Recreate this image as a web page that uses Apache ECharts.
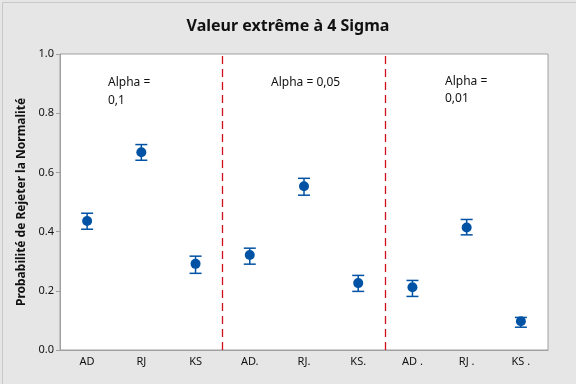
<!DOCTYPE html>
<html><head><meta charset="utf-8">
<script src="https://cdn.jsdelivr.net/npm/echarts@6/dist/echarts.min.js"></script>
<style>html,body{margin:0;padding:0;background:#e6e6e6}#c{width:576px;height:384px}</style>
</head><body><div id="c"></div>
<script>
const categories = ['AD','RJ','KS','AD.','RJ.','KS.','AD .','RJ .','KS .'];
const probValues = [0.436, 0.668, 0.291, 0.321, 0.553, 0.226, 0.212, 0.414, 0.097];
const upperValues = [0.462, 0.694, 0.317, 0.344, 0.580, 0.252, 0.235, 0.441, 0.110];
const lowerValues = [0.408, 0.641, 0.259, 0.290, 0.523, 0.198, 0.181, 0.389, 0.077];
const dividerPositions = [3, 6];
const yTicks = [0, 0.2, 0.4, 0.6, 0.8, 1.0];

const color = '#0053a4';
const font = '"Noto Sans", "DejaVu Sans", sans-serif';
const chart = echarts.init(document.getElementById('c'));
chart.setOption({
  backgroundColor: '#e6e6e6',
  animation: false,
  title: {
    text: 'Valeur extrême à 4 Sigma', left: 'center', top: 13,
    textStyle: {fontFamily: font, fontSize: 16, fontWeight: 'bold', color: '#111'}
  },
  grid: {left: 60, right: 28, top: 54, bottom: 34, show: true, backgroundColor: '#fff', borderColor: '#a0a0a0', borderWidth: 1},
  xAxis: [{
    type: 'category', data: categories, boundaryGap: true,
    axisLine: {lineStyle: {color: '#a0a0a0'}},
    axisTick: {alignWithLabel: true, length: 4, lineStyle: {color: '#a0a0a0'}},
    axisLabel: {fontFamily: font, fontSize: 11, color: '#111', margin: 6, interval: 0}
  }, {
    type: 'value', min: 0, max: 9, show: false
  }],
  yAxis: {
    type: 'value', min: 0, max: 1, interval: 0.2,
    name: 'Probabilité de Rejeter la Normalité', nameLocation: 'middle', nameGap: 31,
    nameTextStyle: {fontFamily: font, fontSize: 12, fontWeight: 'bold', color: '#111'},
    axisLine: {show: true, lineStyle: {color: '#a0a0a0'}},
    axisTick: {show: true, length: 4, lineStyle: {color: '#a0a0a0'}},
    splitLine: {show: false},
    axisLabel: {fontFamily: font, fontSize: 11, color: '#111', margin: 6,
      formatter: v => yTicks.some(t => Math.abs(t - v) < 1e-9) ? v.toFixed(1) : ''}
  },
  series: [{
    type: 'custom', xAxisIndex: 0,
    data: categories.map((c, i) => [i, lowerValues[i], upperValues[i]]),
    renderItem: function (params, api) {
      const lo = api.coord([api.value(0), api.value(1)]);
      const hi = api.coord([api.value(0), api.value(2)]);
      const w = 6;
      const st = {stroke: color, lineWidth: 1.5};
      return {type: 'group', children: [
        {type: 'line', shape: {x1: hi[0], y1: hi[1], x2: lo[0], y2: lo[1]}, style: st},
        {type: 'line', shape: {x1: hi[0] - w, y1: hi[1], x2: hi[0] + w, y2: hi[1]}, style: st},
        {type: 'line', shape: {x1: lo[0] - w, y1: lo[1], x2: lo[0] + w, y2: lo[1]}, style: st}
      ]};
    },
    z: 2
  }, {
    type: 'scatter', xAxisIndex: 0, data: probValues, symbol: 'circle', symbolSize: 10,
    itemStyle: {color: color, opacity: 1}, z: 3
  }, {
    type: 'scatter', xAxisIndex: 1, data: [], silent: true,
    markLine: {
      silent: true, symbol: 'none', label: {show: false},
      lineStyle: {color: '#d0101a', type: [8, 5], width: 1.3},
      data: dividerPositions.map(p => ({xAxis: p}))
    }
  }],
  graphic: [
    {type: 'rect', left: 0, top: 0, shape: {width: 575, height: 383}, style: {fill: 'none', stroke: '#c8c8c8', lineWidth: 1}, silent: true},
    {type: 'text', left: 108, top: 74, style: {text: 'Alpha =\n0,1', font: '12px ' + font, fill: '#111', lineHeight: 18}},
    {type: 'text', left: 271, top: 77, style: {text: 'Alpha = 0,05', font: '12px ' + font, fill: '#111'}},
    {type: 'text', left: 445, top: 73, style: {text: 'Alpha =\n0,01', font: '12px ' + font, fill: '#111', lineHeight: 17}}
  ]
});
</script></body></html>
